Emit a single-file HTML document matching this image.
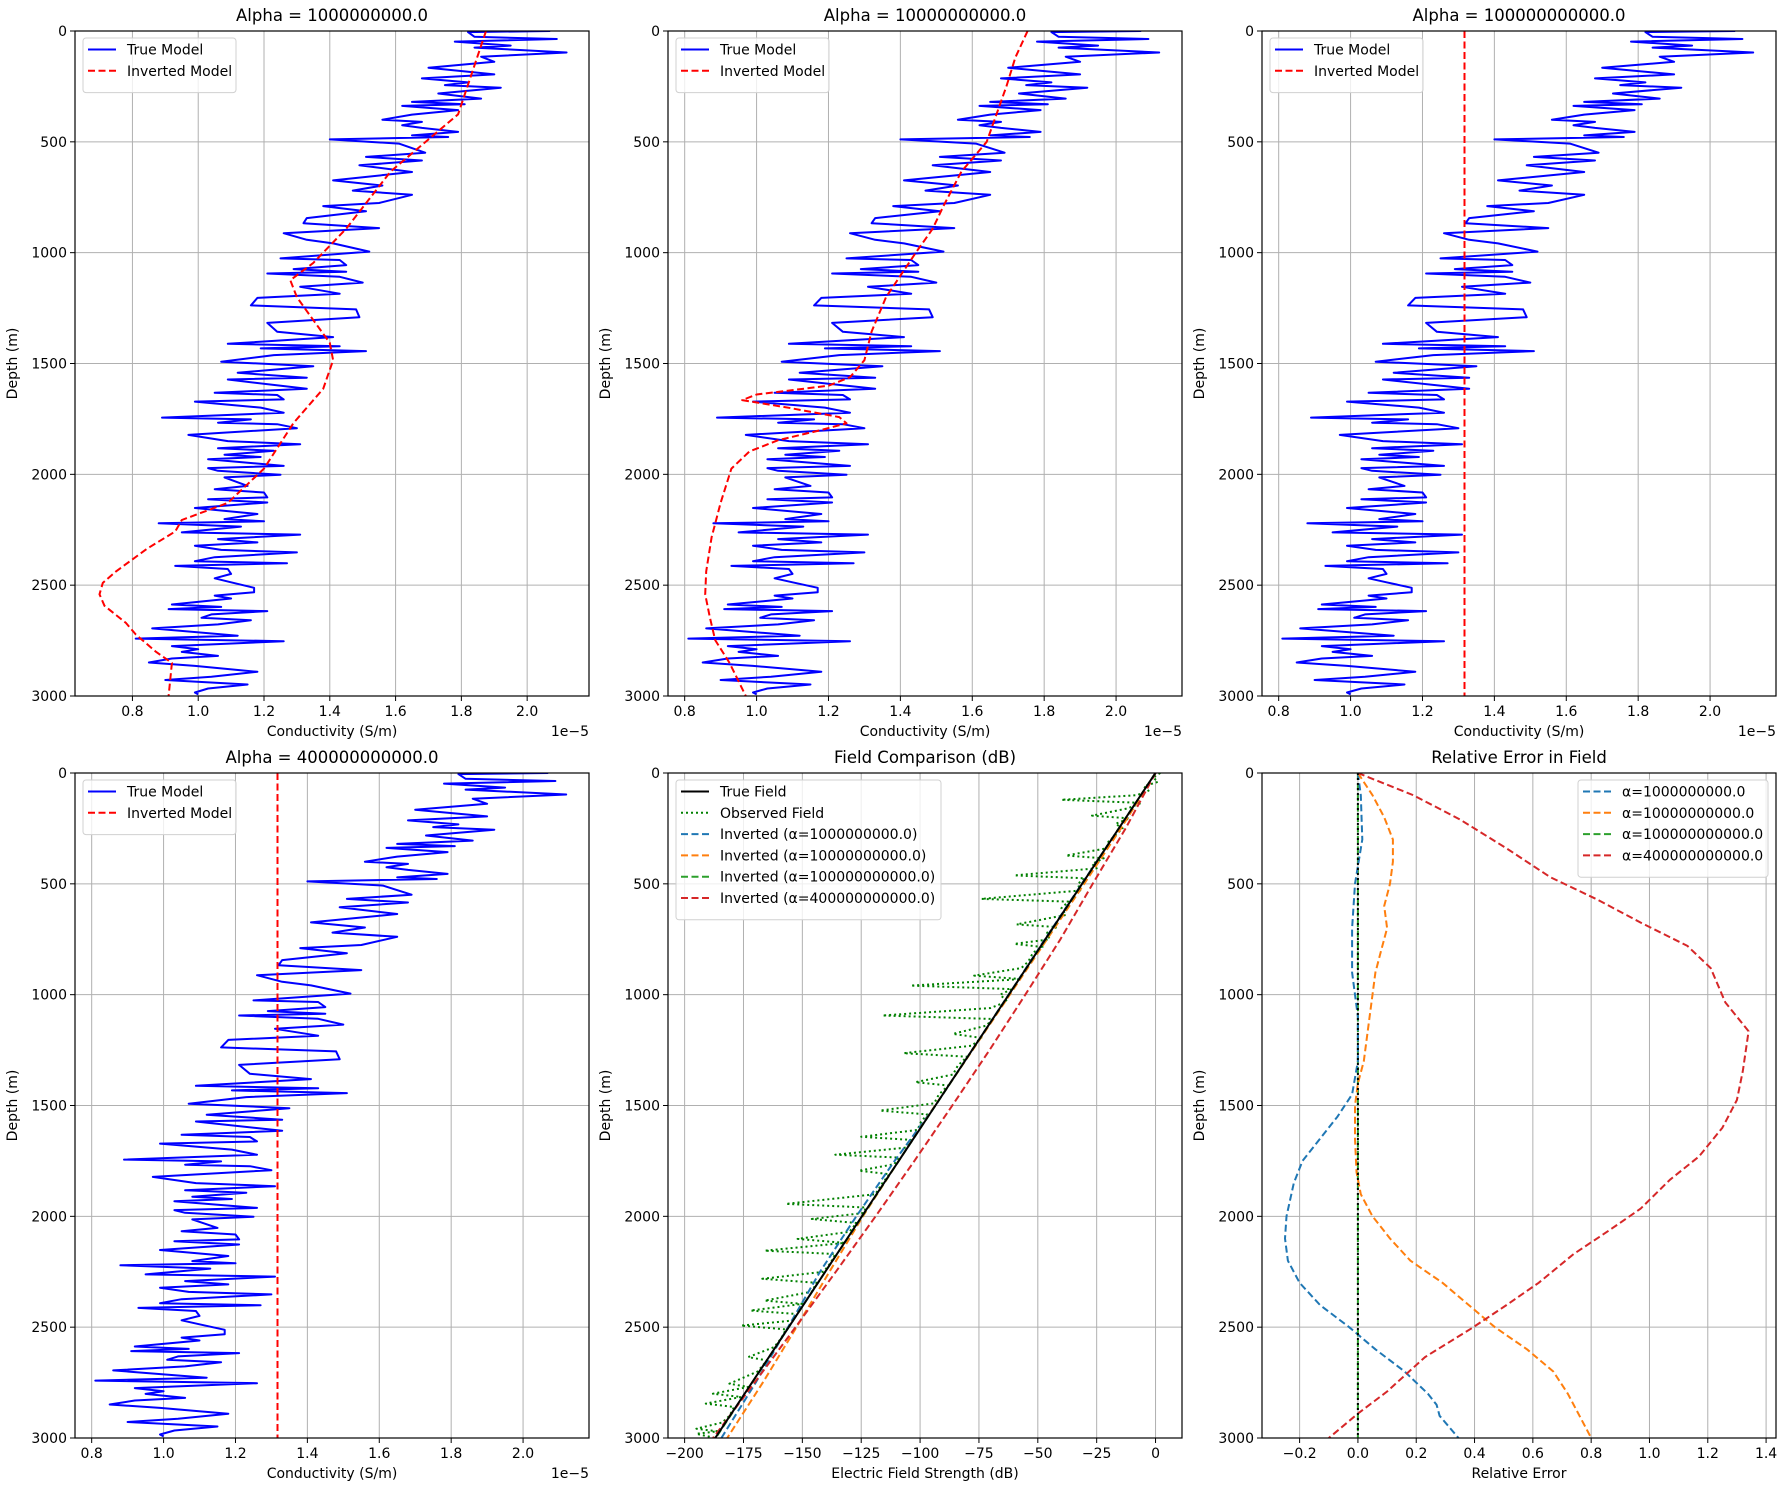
<!DOCTYPE html>
<html><head><meta charset="utf-8">
<style>
html,body{margin:0;padding:0;background:#fff;}
svg{display:block;font-family:"DejaVu Sans","Liberation Sans",sans-serif;}
</style></head>
<body>
<svg id="fig" width="1788" height="1490" viewBox="0 0 1788 1490" xmlns="http://www.w3.org/2000/svg">
<rect x="0" y="0" width="1788" height="1490" fill="#fff"/>
</svg>
<script>
// ---- data ----
const trueDepth = [0,5,26,36,48,66,75,97,116,139,166,196,214,232,244,256,282,305,320,330,338,357,377,400,410,425,437,455,471,478,489,508,549,568,584,606,636,674,697,720,739,776,790,813,844,867,889,912,942,958,995,1026,1033,1056,1074,1086,1094,1109,1135,1154,1185,1204,1238,1256,1291,1317,1357,1381,1411,1422,1432,1444,1462,1492,1512,1542,1564,1572,1614,1632,1642,1662,1672,1699,1722,1744,1752,1767,1774,1792,1822,1850,1864,1882,1894,1912,1922,1932,1962,1972,1984,2002,2014,2052,2067,2082,2104,2112,2127,2152,2179,2202,2212,2221,2236,2262,2272,2292,2307,2322,2341,2352,2374,2392,2401,2413,2427,2449,2469,2487,2512,2532,2547,2560,2569,2587,2598,2608,2617,2632,2647,2658,2677,2695,2728,2741,2753,2775,2789,2801,2819,2831,2849,2864,2891,2913,2928,2948,2966,2984,2993];
const trueCond = [2.07,1.82,1.84,2.09,1.78,1.95,1.84,2.12,1.86,1.90,1.70,1.90,1.68,1.82,1.75,1.92,1.73,1.86,1.65,1.81,1.62,1.79,1.65,1.56,1.68,1.62,1.68,1.79,1.65,1.76,1.40,1.61,1.69,1.51,1.68,1.49,1.65,1.41,1.56,1.47,1.65,1.55,1.38,1.51,1.33,1.32,1.55,1.26,1.33,1.41,1.52,1.25,1.43,1.45,1.29,1.45,1.21,1.43,1.50,1.31,1.43,1.18,1.16,1.48,1.49,1.21,1.24,1.41,1.09,1.43,1.19,1.51,1.23,1.07,1.35,1.12,1.33,1.09,1.33,1.05,1.24,1.26,0.99,1.19,1.26,0.89,1.16,1.06,1.24,1.30,0.97,1.09,1.31,1.06,1.23,1.08,1.19,1.03,1.26,1.03,1.06,1.25,1.08,1.15,1.05,1.20,1.21,1.03,1.21,0.99,1.18,1.08,1.20,0.88,1.13,0.95,1.31,1.06,1.18,0.99,1.07,1.30,1.05,0.99,1.27,0.93,1.09,1.10,1.05,1.10,1.17,1.17,1.05,1.10,1.04,0.92,1.07,0.91,1.21,1.04,1.01,1.16,1.06,0.86,1.12,0.81,1.26,0.92,1.00,0.95,1.06,0.92,0.85,0.99,1.18,1.04,0.90,1.15,1.03,0.99,1.00];
const inv1Depth = [0,376,634,892,1046,1124,1201,1304,1407,1485,1614,1768,1974,2129,2206,2258,2335,2438,2490,2541,2593,2670,2722,2799,2851,3000];
const inv1Cond = [1.875,1.79,1.585,1.45,1.35,1.28,1.30,1.35,1.40,1.41,1.38,1.29,1.20,1.09,0.95,0.93,0.845,0.75,0.71,0.70,0.715,0.78,0.81,0.87,0.92,0.91];
const inv2Depth = [0,119,250,500,634,789,892,1000,1201,1356,1485,1562,1600,1640,1665,1700,1742,1770,1800,1846,1897,1974,2129,2284,2438,2541,2644,2748,2851,3000];
const inv2Cond = [1.754,1.72,1.695,1.64,1.57,1.52,1.49,1.443,1.36,1.32,1.30,1.26,1.20,1.00,0.96,1.09,1.23,1.25,1.18,1.06,0.98,0.93,0.90,0.875,0.86,0.857,0.87,0.885,0.925,0.97];
const inv3Depth = [0,3000];
const inv3Cond = [1.317,1.317];
const inv4Depth = [0,3000];
const inv4Cond = [1.317,1.317];

const fieldDepth = [0,250,500,750,1000,1250,1500,1750,2000,2250,2500,2750,3000];
const trueField = [0,-15.6,-31.2,-46.8,-62.3,-77.9,-93.5,-109.1,-124.7,-140.3,-155.8,-171.4,-187];
const invField1 = [0,-15.5,-31.3,-47,-62.4,-77.9,-93.5,-110.8,-127.1,-142.5,-156.1,-169.8,-184.4];
const invField2 = [0,-14.7,-30.3,-46.1,-61.9,-77.7,-93.6,-109.1,-124.3,-138.5,-152.5,-166.8,-181.9];
const invField3 = [0,-15.6,-31.1,-46.7,-62.3,-77.9,-93.5,-109.1,-124.6,-140.3,-155.8,-171.3,-186.8];
const invField4 = [0,-12.7,-26.7,-40.4,-55.3,-70.5,-86.3,-102.4,-118.9,-135.8,-152.9,-170.3,-187.9];
const obsDepth = [0,20,40,60,80,100,121,135,160,192,205,229,250,280,310,340,372,385,410,430,462,475,500,530,568,580,610,640,683,695,720,750,771,785,810,850,880,914,930,959,975,1000,1030,1060,1094,1110,1140,1177,1195,1230,1264,1280,1320,1360,1395,1410,1450,1490,1523,1540,1580,1610,1641,1655,1690,1722,1735,1765,1794,1810,1850,1900,1944,1960,1985,2012,2030,2070,2102,2120,2155,2170,2210,2250,2282,2300,2340,2380,2395,2425,2440,2470,2493,2510,2550,2590,2635,2650,2700,2755,2770,2800,2815,2845,2860,2900,2930,2958,2970,2981,3000];
const obsField = [2,-1,1,-5,-3,-8,-40,-6,-12,-27,-11,-17,-14,-17,-20,-21,-38,-22,-27,-25,-60,-30,-33,-32,-74,-37,-40,-38,-59,-42,-46,-45,-60,-48,-52,-54,-57,-77,-57,-104,-61,-66,-63,-70,-116,-69,-72,-86,-74,-78,-107,-80,-84,-86,-102,-88,-92,-94,-117,-97,-100,-101,-125,-104,-106,-136,-109,-111,-126,-113,-116,-119,-157,-123,-124,-146,-127,-130,-152,-132,-166,-136,-138,-141,-167,-144,-146,-166,-150,-172,-153,-154,-176,-157,-159,-162,-173,-165,-169,-181,-173,-188,-176,-191,-179,-181,-184,-195,-186,-195,-187];

const err1Depth = [0,100,300,500,700,900,1100,1300,1450,1550,1650,1750,1850,2000,2100,2200,2300,2400,2500,2600,2700,2800,2850,2900,3000];
const err1 = [0,0.01,0.015,-0.01,-0.02,-0.02,0,0,-0.02,-0.07,-0.13,-0.19,-0.22,-0.245,-0.25,-0.24,-0.2,-0.13,-0.03,0.06,0.16,0.24,0.27,0.28,0.345];
const err2Depth = [0,100,200,300,400,500,600,700,800,900,1000,1100,1200,1300,1400,1500,1650,1800,1900,2000,2100,2200,2300,2400,2500,2600,2700,2800,2900,3000];
const err2 = [0,0.05,0.09,0.12,0.12,0.11,0.09,0.1,0.08,0.06,0.05,0.04,0.03,0.02,0,-0.01,-0.01,-0.005,0.01,0.05,0.11,0.18,0.29,0.38,0.47,0.58,0.67,0.72,0.76,0.8];
const err3Depth = [0,3000];
const err3 = [0,0];
const err4Depth = [0,100,210,340,470,570,675,780,880,1035,1165,1345,1475,1600,1730,1835,1965,2065,2170,2300,2400,2505,2635,2790,2890,3000];
const err4 = [0,0.19,0.35,0.51,0.66,0.82,0.97,1.13,1.21,1.26,1.34,1.32,1.30,1.25,1.17,1.07,0.97,0.86,0.74,0.62,0.51,0.39,0.23,0.10,0,-0.1];

const condTicks = [0.8,1.0,1.2,1.4,1.6,1.8,2.0];
const condTickLabels = ["0.8","1.0","1.2","1.4","1.6","1.8","2.0"];
const depthTicks = [0,500,1000,1500,2000,2500,3000];
const depthTickLabels = ["0","500","1000","1500","2000","2500","3000"];
const fieldTicks = [-200,-175,-150,-125,-100,-75,-50,-25,0];
const fieldTickLabels = ["\u2212200","\u2212175","\u2212150","\u2212125","\u2212100","\u221275","\u221250","\u221225","0"];
const errTicks = [-0.2,0,0.2,0.4,0.6,0.8,1.0,1.2,1.4];
const errTickLabels = ["\u22120.2","0.0","0.2","0.4","0.6","0.8","1.0","1.2","1.4"];

// ---- drawing ----
const NS = "http://www.w3.org/2000/svg";
const fig = document.getElementById('fig');
function mk(tag, attrs, parent){
  const e = document.createElementNS(NS, tag);
  for (const k in attrs) e.setAttribute(k, attrs[k]);
  (parent||fig).appendChild(e);
  return e;
}
function makeAxes(cfg){
  const g = mk('g', {});
  
  
  const L=cfg.x0, R=cfg.x1, T=cfg.y0, B=cfg.y1;
  const sx = v => L + (v - cfg.xd[0])/(cfg.xd[1]-cfg.xd[0])*(R-L);
  const sy = d => T + (d - 0)/(3000-0)*(B-T);
  // grid
  const grid = mk('g', {stroke:'#b0b0b0','stroke-width':1}, g);
  
  
  cfg.xt.forEach(v => mk('line',{x1:sx(v),x2:sx(v),y1:T,y2:B},grid));
  depthTicks.forEach(v => mk('line',{x1:L,x2:R,y1:sy(v),y2:sy(v)},grid));
  // clip
  const cid = 'clip-'+cfg.name;
  const cp = mk('clipPath',{id:cid},g);
  mk('rect',{x:L,y:T,width:R-L,height:B-T},cp);
  const plot = mk('g',{'clip-path':'url(#'+cid+')'},g);
  cfg.series.forEach(s => {
    const pts = s.d.map((d,i)=> sx(s.v[i]).toFixed(1)+','+sy(d).toFixed(1)).join(' ');
    const pl = mk('polyline',{points:pts,fill:'none',stroke:s.c,'stroke-width':s.w||2,'stroke-linejoin':'round'},plot);
    if (s.dash) pl.setAttribute('stroke-dasharray', s.dash);
    
    
  });
  // spines
  const sp = mk('rect',{x:L,y:T,width:R-L,height:B-T,fill:'none',stroke:'#000','stroke-width':1.2},g);
  
  
  // x ticks
  const xa = mk('g',{'font-size':14,fill:'#000','text-anchor':'middle'},g);
  
  
  cfg.xt.forEach((v,i)=>{
    mk('line',{x1:sx(v),x2:sx(v),y1:B,y2:B+5,stroke:'#000','stroke-width':1},xa);
    const t = mk('text',{x:sx(v),y:B+20},xa); t.textContent = cfg.xl[i];
  });
  const xt = mk('text',{x:(L+R)/2,y:B+40,'font-size':14,'text-anchor':'middle'},g);
  xt.textContent = cfg.xlabel;
  
  
  if (cfg.offset){
    const ot = mk('text',{x:R,y:B+40,'font-size':14,'text-anchor':'end'},g);
    ot.textContent = cfg.offset;
    
    
  }
  // y ticks
  const ya = mk('g',{'font-size':14,fill:'#000','text-anchor':'end'},g);
  
  
  depthTicks.forEach((v,i)=>{
    mk('line',{x1:L-5,x2:L,y1:sy(v),y2:sy(v),stroke:'#000','stroke-width':1},ya);
    const t = mk('text',{x:L-8,y:sy(v)+5},ya); t.textContent = depthTickLabels[i];
  });
  const yl = mk('text',{x:0,y:0,'font-size':14,'text-anchor':'middle',transform:'translate('+(L-58)+','+((T+B)/2)+') rotate(-90)'},g);
  yl.textContent = 'Depth (m)';
  
  
  // title
  const tt = mk('text',{x:(L+R)/2,y:T-10,'font-size':16.5,'text-anchor':'middle'},g);
  tt.textContent = cfg.title;
  
  
  // legend
  const lg = mk('g',{},g);
  
  
  const n = cfg.legend.length;
  const lx = cfg.legendRight ? R - 8 - cfg.legendW : L + 8;
  const ly = T + 7;
  mk('rect',{x:lx,y:ly,width:cfg.legendW,height:12+n*21.3,rx:3,fill:'#fff','fill-opacity':0.8,stroke:'#d0d0d0','stroke-width':1},lg);
  cfg.legend.forEach((e,i)=>{
    const cy = ly + 11.5 + i*21.3;
    const ent = mk('g',{},lg);
    
    
    const ln = mk('line',{x1:lx+5,x2:lx+33,y1:cy,y2:cy,stroke:e.c,'stroke-width':e.w||2},ent);
    if (e.dash) ln.setAttribute('stroke-dasharray', e.dash);
    const t = mk('text',{x:lx+44,y:cy+5,'font-size':14},ent); t.textContent = e.label;
  });
}
const modelLegend = [{label:'True Model',c:'#0000ff'},{label:'Inverted Model',c:'#ff0000',dash:'7,3.5'}];
const C1=[75,589], C2=[668,1182], C3=[1262,1776], R1=[31,696], R2=[773,1438];
const dCond = [0.7536,2.1834];
makeAxes({name:'panel-alpha-1e9',x0:C1[0],x1:C1[1],y0:R1[0],y1:R1[1],xd:[0.6254,2.188],xt:condTicks,xl:condTickLabels,
  xlabel:'Conductivity (S/m)',offset:'1e\u22125',title:'Alpha = 1000000000.0',legend:modelLegend,legendW:153,
  series:[{name:'true-model-line',d:trueDepth,v:trueCond,c:'#0000ff'},{name:'inverted-model-line',d:inv1Depth,v:inv1Cond,c:'#ff0000',dash:'7,3.5'}]});
makeAxes({name:'panel-alpha-1e10',x0:C2[0],x1:C2[1],y0:R1[0],y1:R1[1],xd:dCond,xt:condTicks,xl:condTickLabels,
  xlabel:'Conductivity (S/m)',offset:'1e\u22125',title:'Alpha = 10000000000.0',legend:modelLegend,legendW:153,
  series:[{name:'true-model-line',d:trueDepth,v:trueCond,c:'#0000ff'},{name:'inverted-model-line',d:inv2Depth,v:inv2Cond,c:'#ff0000',dash:'7,3.5'}]});
makeAxes({name:'panel-alpha-1e11',x0:C3[0],x1:C3[1],y0:R1[0],y1:R1[1],xd:dCond,xt:condTicks,xl:condTickLabels,
  xlabel:'Conductivity (S/m)',offset:'1e\u22125',title:'Alpha = 100000000000.0',legend:modelLegend,legendW:153,
  series:[{name:'true-model-line',d:trueDepth,v:trueCond,c:'#0000ff'},{name:'inverted-model-line',d:inv3Depth,v:inv3Cond,c:'#ff0000',dash:'7,3.5'}]});
makeAxes({name:'panel-alpha-4e11',x0:C1[0],x1:C1[1],y0:R2[0],y1:R2[1],xd:dCond,xt:condTicks,xl:condTickLabels,
  xlabel:'Conductivity (S/m)',offset:'1e\u22125',title:'Alpha = 400000000000.0',legend:modelLegend,legendW:153,
  series:[{name:'true-model-line',d:trueDepth,v:trueCond,c:'#0000ff'},{name:'inverted-model-line',d:inv4Depth,v:inv4Cond,c:'#ff0000',dash:'7,3.5'}]});
makeAxes({name:'panel-field-comparison',x0:C2[0],x1:C2[1],y0:R2[0],y1:R2[1],xd:[-207.06,11.24],xt:fieldTicks,xl:fieldTickLabels,
  xlabel:'Electric Field Strength (dB)',title:'Field Comparison (dB)',legendW:265,
  legend:[{label:'True Field',c:'#000'},{label:'Observed Field',c:'#008000',dash:'2,3'},
    {label:'Inverted (\u03b1=1000000000.0)',c:'#1f77b4',dash:'7,3.5'},{label:'Inverted (\u03b1=10000000000.0)',c:'#ff7f0e',dash:'7,3.5'},
    {label:'Inverted (\u03b1=100000000000.0)',c:'#2ca02c',dash:'7,3.5'},{label:'Inverted (\u03b1=400000000000.0)',c:'#d62728',dash:'7,3.5'}],
  series:[{name:'observed-field-line',d:obsDepth,v:obsField,c:'#008000',dash:'2,3'},
    {name:'inverted-field-1e9',d:fieldDepth,v:invField1,c:'#1f77b4',dash:'7,3.5'},
    {name:'inverted-field-1e10',d:fieldDepth,v:invField2,c:'#ff7f0e',dash:'7,3.5'},
    {name:'inverted-field-1e11',d:fieldDepth,v:invField3,c:'#2ca02c',dash:'7,3.5'},
    {name:'inverted-field-4e11',d:fieldDepth,v:invField4,c:'#d62728',dash:'7,3.5'},
    {name:'true-field-line',d:fieldDepth,v:trueField,c:'#000'}]});
const zeroD=[0,3000], zeroV=[0,0];
makeAxes({name:'panel-relative-error',x0:C3[0],x1:C3[1],y0:R2[0],y1:R2[1],xd:[-0.329,1.434],xt:errTicks,xl:errTickLabels,
  xlabel:'Relative Error',title:'Relative Error in Field',legendW:190,legendRight:true,
  legend:[{label:'\u03b1=1000000000.0',c:'#1f77b4',dash:'7,3.5'},{label:'\u03b1=10000000000.0',c:'#ff7f0e',dash:'7,3.5'},
    {label:'\u03b1=100000000000.0',c:'#2ca02c',dash:'7,3.5'},{label:'\u03b1=400000000000.0',c:'#d62728',dash:'7,3.5'}],
  series:[{name:'error-1e11',d:err3Depth,v:err3,c:'#2ca02c',dash:'7,3.5'},
    {name:'error-1e9',d:err1Depth,v:err1,c:'#1f77b4',dash:'7,3.5'},
    {name:'error-1e10',d:err2Depth,v:err2,c:'#ff7f0e',dash:'7,3.5'},
    {name:'error-4e11',d:err4Depth,v:err4,c:'#d62728',dash:'7,3.5'},
    {name:'zero-error-line',d:zeroD,v:zeroV,c:'#000',dash:'2,3'}]});
</script>
</body></html>
